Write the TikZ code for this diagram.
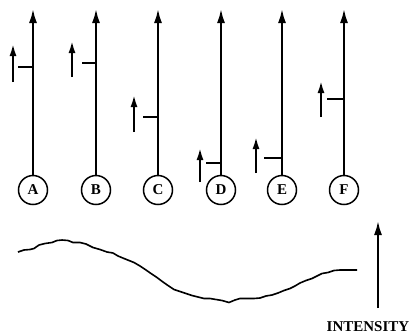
\documentclass[tikz,border=0pt]{standalone}
\usepackage{fontspec}
\setmainfont{Liberation Serif}
\usetikzlibrary{arrows.meta}

\tikzset{
  beam/.style={-{Latex[length=14pt,width=8pt]}, line width=2pt},
  moveup/.style={-{Latex[length=12pt,width=7pt]}, line width=2pt},
  level/.style={line width=1.8pt},
  slot/.style={circle, draw, line width=1.5pt, minimum size=29pt, inner sep=0pt,
    font=\bfseries\fontsize{15}{15}\selectfont},
  wave/.style={line width=1.6pt, line join=round}
}

\begin{document}
\begin{tikzpicture}[x=1pt, y=-1pt]
            \useasboundingbox (0,0) rectangle (412,335);
            % Slots
            \node[slot] (A) at (33,190) {A};
            \node[slot] (B) at (96,190) {B};
            \node[slot] (C) at (158,190) {C};
            \node[slot] (D) at (221,190) {D};
            \node[slot] (E) at (282,190) {E};
            \node[slot] (F) at (344,190) {F};
            % Tops of the long arrows
            \coordinate (topA) at (33,9);
            \coordinate (topB) at (96,9);
            \coordinate (topC) at (158,9);
            \coordinate (topD) at (221,9);
            \coordinate (topE) at (282,9);
            \coordinate (topF) at (344,9);
            % Long arrows
            \draw[beam] (A) -- (topA);
            \draw[beam] (B) -- (topB);
            \draw[beam] (C) -- (topC);
            \draw[beam] (D) -- (topD);
            \draw[beam] (E) -- (topE);
            \draw[beam] (F) -- (topF);
            % Level marks
            \coordinate (levA) at (18,67);
            \coordinate (levB) at (82,63);
            \coordinate (levC) at (143,117);
            \coordinate (levD) at (206,163);
            \coordinate (levE) at (264,158);
            \coordinate (levF) at (327,99);
            \draw[level] (levA) -- (levA -| A);
            \draw[level] (levB) -- (levB -| B);
            \draw[level] (levC) -- (levC -| C);
            \draw[level] (levD) -- (levD -| D);
            \draw[level] (levE) -- (levE -| E);
            \draw[level] (levF) -- (levF -| F);
            % Small arrows
            \coordinate (lowA) at (13,82);  \coordinate (upA) at (13,44);
            \coordinate (lowB) at (72,77);  \coordinate (upB) at (72,41);
            \coordinate (lowC) at (134,132); \coordinate (upC) at (134,95);
            \coordinate (lowD) at (200,182); \coordinate (upD) at (200,148);
            \coordinate (lowE) at (256,173); \coordinate (upE) at (256,137);
            \coordinate (lowF) at (321,117); \coordinate (upF) at (321,81);
            \draw[moveup] (lowA) -- (upA);
            \draw[moveup] (lowB) -- (upB);
            \draw[moveup] (lowC) -- (upC);
            \draw[moveup] (lowD) -- (upD);
            \draw[moveup] (lowE) -- (upE);
            \draw[moveup] (lowF) -- (upF);
            % Intensity curve
            \draw[wave] (18,252) -- (24,250) -- (30,249.5) -- (34,248.5) -- (39,245)
              -- (45,243.5) -- (52,242.5) -- (57,240.5) -- (62,240) -- (68,240.5)
              -- (73,242.5) -- (80,242.5) -- (86,244) -- (93,247.5) -- (100,249.5)
              -- (107,252) -- (113,253) -- (118,256) -- (124,258.5) -- (129,260.5)
              -- (134,262.5) -- (140,266) -- (146,270) -- (151,273.5) -- (157,277.5)
              -- (163,282) -- (168,285.5) -- (174,289.5) -- (180,291.5) -- (186,293.5)
              -- (192,295.5) -- (198,297) -- (204,298.5) -- (210,298.5) -- (216,299.5)
              -- (222,300.5) -- (229,302.5) -- (235,300) -- (240,298.5) -- (247,298.5)
              -- (254,298.5) -- (260,298) -- (266,296) -- (272,295) -- (278,293)
              -- (284,290.5) -- (290,288.5) -- (295,286) -- (300,283) -- (306,280.5)
              -- (312,278.5) -- (317,276) -- (322,273.5) -- (328,272.5) -- (334,270.5)
              -- (340,270) -- (348,270) -- (357,270);
            % Intensity axis
            \node[font=\bfseries\fontsize{15}{15}\selectfont] (intensity) at (368,327) {INTENSITY};
            \coordinate (axislow) at (378,308);
            \coordinate (axishigh) at (378,221);
            \draw[beam] (axislow) -- (axishigh);
        \end{tikzpicture}
\end{document}
